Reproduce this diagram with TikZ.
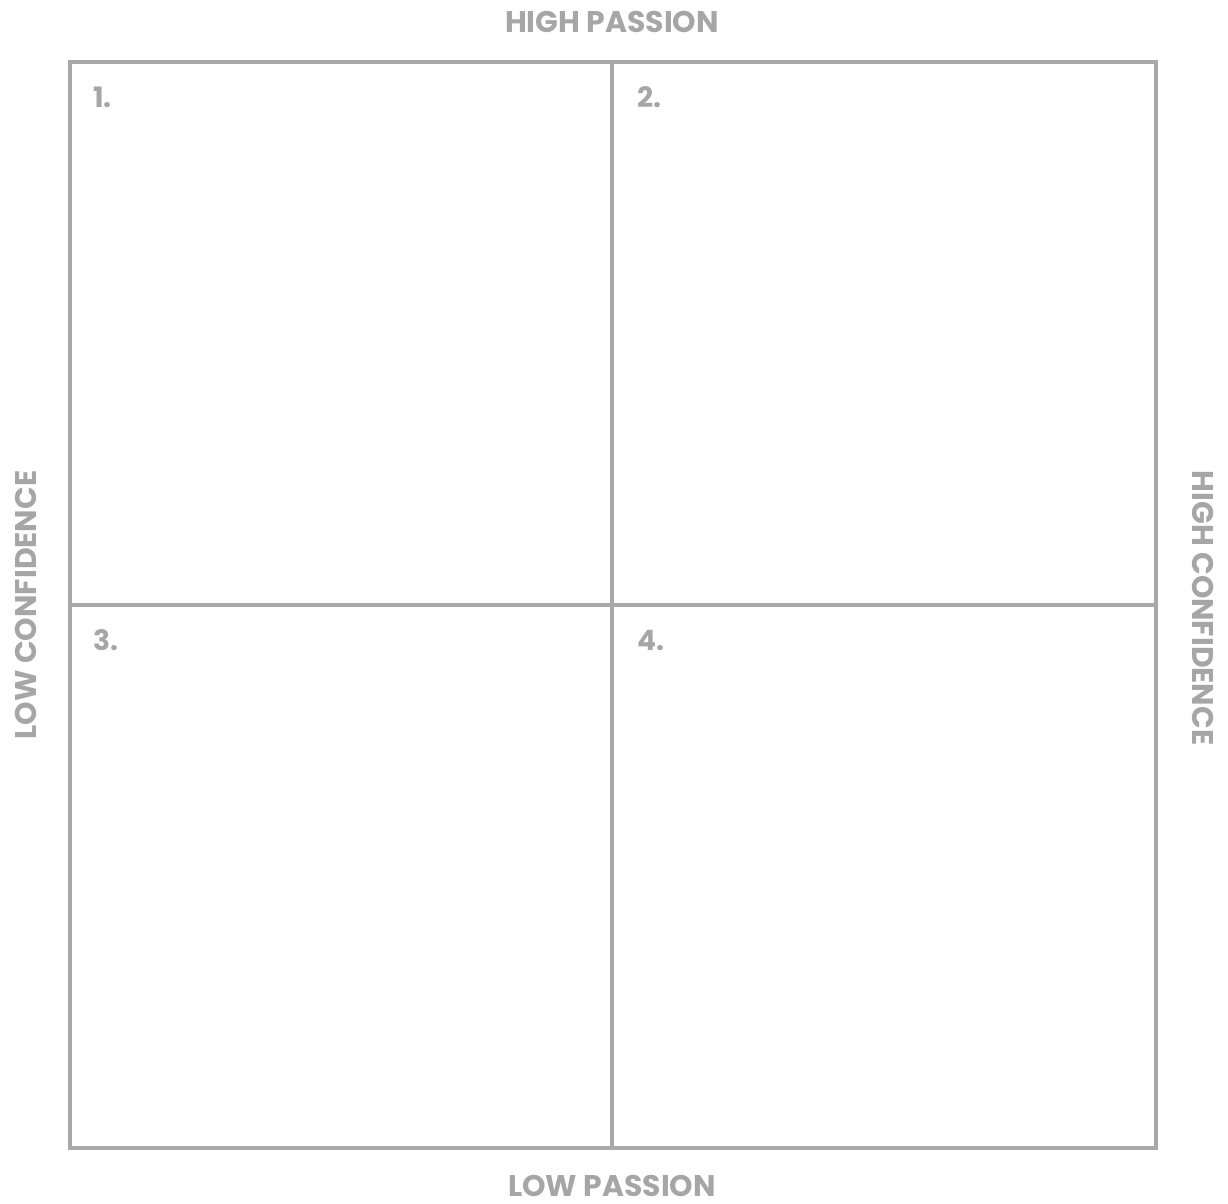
\documentclass[tikz,border=0pt]{standalone}
\usepackage{fontspec}
\setmainfont{Poppins}
\usetikzlibrary{positioning}
\definecolor{grislinea}{HTML}{A9A9A9}
\definecolor{gristexto}{HTML}{A6A6A6}
\tikzset{
  ejeTexto/.style={font=\fontsize{17}{20}\selectfont\bfseries, text=gristexto, inner sep=0pt},
  numCuadrante/.style={font=\fontsize{16}{19}\selectfont\bfseries, text=gristexto, inner sep=0pt, anchor=west},
  lineaRejilla/.style={draw=grislinea, line width=2.2pt},
}
\begin{document}
\begin{tikzpicture}[x=0.02cm, y=-0.02cm]
    \useasboundingbox (0,0) rectangle (1228,1204);
    % Rejilla
    \coordinate (nw) at (70,62);
    \coordinate (se) at (1156,1148);
    \coordinate (centro) at (612,605);
    \draw[lineaRejilla] (nw) rectangle (se);
    \draw[lineaRejilla] (centro |- nw) -- (centro |- se);
    \draw[lineaRejilla] (centro -| nw) -- (centro -| se);

    % Ejes
    \node[ejeTexto] (arriba) at (612,22) {HIGH PASSION};
    \node[ejeTexto] (abajo) at (612,1186) {LOW PASSION};
    \node[ejeTexto, rotate=90] (izq) at (26,605) {LOW CONFIDENCE};
    \node[ejeTexto, rotate=-90] (der) at (1203,608) {HIGH CONFIDENCE};

    % Cuadrantes
    \node[numCuadrante] (q1) at (93,97) {1.};
    \node[numCuadrante] (q2) at (637,97) {2.};
    \node[numCuadrante] (q3) at (93,640) {3.};
    \node[numCuadrante] (q4) at (637,640) {4.};
  \end{tikzpicture}
\end{document}
